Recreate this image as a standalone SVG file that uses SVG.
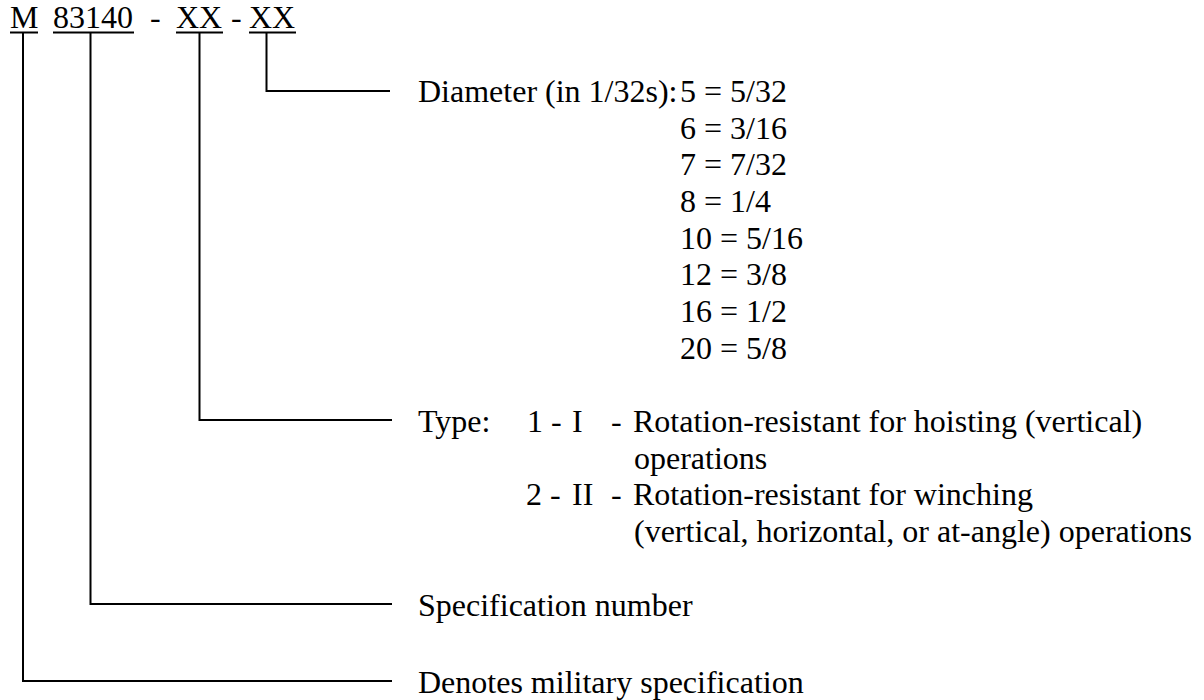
<svg xmlns="http://www.w3.org/2000/svg" width="1204" height="700" viewBox="0 0 1204 700">
<style>
text{font-family:"Liberation Serif","Times New Roman",serif;font-size:32px;fill:#000}
.ln{stroke:#000;stroke-width:2;fill:none}
</style>
<rect width="1204" height="700" fill="#fff"/>
<g id="code">
<text x="10" y="28">M</text>
<text x="53" y="28">83140</text>
<text x="150" y="28">-</text>
<text x="176" y="28">XX</text>
<text x="231" y="28">-</text>
<text x="249" y="28">XX</text>
<line class="ln" x1="10" y1="32.5" x2="38" y2="32.5"/>
<line class="ln" x1="53" y1="32.5" x2="134" y2="32.5"/>
<line class="ln" x1="176" y1="32.5" x2="223" y2="32.5"/>
<line class="ln" x1="249" y1="32.5" x2="296" y2="32.5"/>
</g>
<g id="connectors">
<polyline class="ln" points="266.5,32.5 266.5,91 390,91"/>
<polyline class="ln" points="199.5,32.5 199.5,420 392,420"/>
<polyline class="ln" points="90.5,32.5 90.5,604 392,604"/>
<polyline class="ln" points="23,32.5 23,681 392,681"/>
</g>
<g id="diameter">
<text x="418" y="102">Diameter (in 1/32s):</text>
<text x="680" y="102">5 = 5/32</text>
<text x="680" y="138.7">6 = 3/16</text>
<text x="680" y="175.3">7 = 7/32</text>
<text x="680" y="212">8 = 1/4</text>
<text x="680" y="248.7">10 = 5/16</text>
<text x="680" y="285.3">12 = 3/8</text>
<text x="680" y="322">16 = 1/2</text>
<text x="680" y="358.7">20 = 5/8</text>
</g>
<g id="type">
<text x="418" y="432">Type:</text>
<text x="527" y="432">1 -</text>
<text x="572" y="432">I</text>
<text x="611" y="432">-</text>
<text x="633" y="432">Rotation-resistant for hoisting (vertical)</text>
<text x="634" y="468.7">operations</text>
<text x="526" y="505.3">2 -</text>
<text x="572" y="505.3">II</text>
<text x="611" y="505.3">-</text>
<text x="633" y="505.3">Rotation-resistant for winching</text>
<text x="634" y="542">(vertical, horizontal, or at-angle) operations</text>
</g>
<g id="spec">
<text x="418" y="615.5">Specification number</text>
</g>
<g id="military">
<text x="418" y="692.5">Denotes military specification</text>
</g>
</svg>
